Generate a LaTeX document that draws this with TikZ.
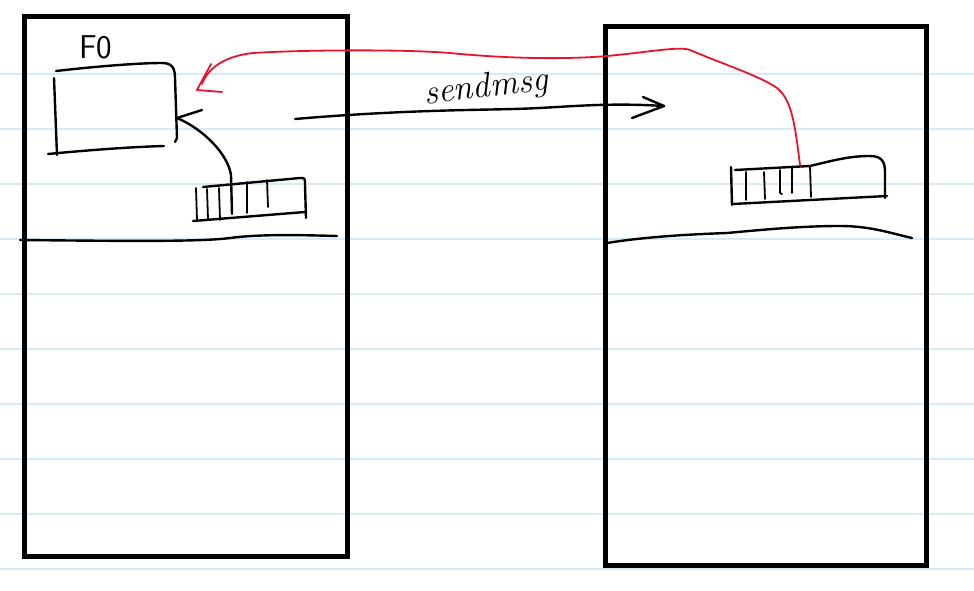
\documentclass[tikz,border=0pt]{standalone}
\usepackage{fontspec}
\definecolor{ruleblue}{RGB}{212,236,248}
\definecolor{penred}{RGB}{232,20,44}
\begin{document}
\begin{tikzpicture}[x=1pt,y=-1pt,
  rule/.style={ruleblue, line width=1.3pt},
  frame/.style={black, line width=5pt},
  hand/.style={black, line width=2.4pt, line cap=round, line join=round},
  thin hand/.style={black, line width=1.8pt, line cap=round, line join=round},
  redpen/.style={penred, line width=1.8pt, line cap=round, line join=round}]
\fill[white] (0,0) rectangle (974,591);
\useasboundingbox (0,0) rectangle (974,591);
% ruled paper
\foreach \k in {0,...,9} { \draw[rule] (0,{74+55*\k}) -- (974,{74+55*\k}); }
% process frames
\draw[frame] (24,17) rectangle (347,556);
\draw[frame] (605,27) rectangle (926,565);
% separator lines
\draw[hand] (20,240) .. controls (120,241) and (200,242) .. (230,238) .. controls (260,234) and (300,235) .. (337,236);
\draw[hand] (607,243) .. controls (650,236) and (700,234) .. (727,233) .. controls (760,230) and (800,226) .. (840,226) .. controls (870,226) and (890,233) .. (912,238);
% F0 box
\node[font=\sffamily\fontsize{33}{33}\selectfont, inner sep=0pt, anchor=base west] (f0) at (79,59) {F0};
\draw[hand] (56,71) .. controls (100,66) and (140,63) .. (162,63) .. controls (172,63) and (175,68) .. (175,78) -- (177,138) -- (175,142);
\draw[hand] (54,78) -- (57,155);
\draw[hand] (48,154) .. controls (90,150) and (130,147) .. (164,146);
\coordinate (f0in) at (177,118);
% left queue
\draw[hand] (203,187) -- (300,178) .. controls (305,178) .. (305,185) -- (306,218);
\draw[hand] (193,221) -- (305,212);
\draw[thin hand] (196,188) -- (197,220);
\draw[thin hand] (207,189) -- (208,219);
\draw[thin hand] (219,188) -- (220,220);
\draw[thin hand] (247,182) -- (247,213);
\draw[thin hand] (267,180) -- (268,207);
\coordinate (lq) at (232,214);
\draw[hand] (lq) -- (231,175) .. controls (228,155) and (205,130) .. (f0in) -- (202,110);
% sendmsg arrow
\coordinate (sa) at (295,119);
\coordinate (sb) at (664,106);
\draw[hand] (sa) .. controls (400,110) and (480,110) .. (513,109) .. controls (560,108) and (600,102) .. (sb);
\draw[hand] (643,97) -- (sb) -- (632,118);
\node[font=\itshape\fontsize{35}{35}\selectfont, inner sep=0pt, anchor=base, rotate=7] (sendmsg) at (487,97) {sendmsg};
% right queue
\draw[hand] (731,167) -- (732,205);
\draw[hand] (735,170) -- (810,166) .. controls (835,160) and (850,156) .. (870,156) .. controls (882,156) and (885,162) .. (885,172) -- (885,198);
\draw[hand] (733,204) -- (887,196);
\draw[thin hand] (746,172) -- (746,200);
\draw[thin hand] (764,172) -- (765,199);
\draw[thin hand] (780,170) -- (780,193) -- (782,194);
\draw[thin hand] (792,168) -- (792,193);
\draw[thin hand] (810,166) -- (811,197);
\coordinate (rq) at (800,165);
% red return arrow
\coordinate (rtip) at (202,84);
\draw[redpen] (rq) .. controls (795,125) and (792,100) .. (777,88) .. controls (760,76) and (720,63) .. (690,50) .. controls (680,46) and (650,52) .. (607,56) .. controls (560,60) and (500,58) .. (450,53) .. controls (400,49) and (300,50) .. (253,53) .. controls (225,56) and (208,68) .. (rtip);
\draw[redpen] (211,64) -- (197,90) -- (222,92);
\end{tikzpicture}
\end{document}
